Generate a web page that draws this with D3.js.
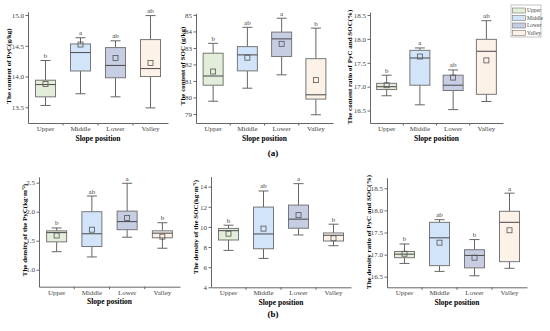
<!DOCTYPE html>
<html>
<head>
<meta charset="utf-8">
<script src="https://cdn.jsdelivr.net/npm/d3@7"></script>
<style>
  body { margin: 0; background: #fff; }
  text { font-family: "Liberation Serif", "Times New Roman", serif; }
</style>
</head>
<body>
<div id="chart"></div>
<script>
// Categories
const slopes = ['Upper', 'Middle', 'Lower', 'Valley'];

// Box stats per slope: [min, q1, median, q3, max, mean]
const pycContent = [[13.53, 13.67, 13.87, 13.94, 14.26, 13.88], [13.72, 14.09, 14.39, 14.53, 14.63, 14.52], [13.67, 13.98, 14.18, 14.47, 14.58, 14.30], [13.49, 14.00, 14.13, 14.60, 14.99, 14.22]];
const socContent = [[79.77, 80.74, 81.30, 82.68, 83.28, 81.57], [80.56, 81.61, 82.58, 83.08, 84.25, 82.41], [81.37, 82.48, 83.55, 83.96, 84.80, 83.25], [78.95, 79.90, 80.16, 82.35, 84.20, 81.05]];
const ratioContent = [[16.81, 16.94, 17.00, 17.07, 17.24, 17.03], [16.62, 17.03, 17.60, 17.76, 17.81, 17.63], [16.52, 16.92, 17.03, 17.24, 17.35, 17.19], [16.69, 16.84, 17.74, 17.99, 18.38, 17.55]];
const pycDensity = [[1.31, 1.48, 1.64, 1.67, 1.72, 1.59], [1.22, 1.40, 1.62, 2.00, 2.27, 1.69], [1.56, 1.69, 1.83, 2.01, 2.49, 1.89], [1.37, 1.55, 1.63, 1.67, 1.81, 1.57]];
const socDensity = [[7.67, 8.70, 9.63, 9.85, 10.17, 9.33], [6.87, 7.83, 9.30, 11.97, 13.57, 9.83], [9.20, 9.87, 10.77, 12.17, 14.30, 11.17], [8.13, 8.60, 9.17, 9.40, 10.27, 8.87]];
const ratioDensity = [[16.80, 16.93, 17.01, 17.07, 17.24, 17.02], [16.62, 16.75, 17.38, 17.73, 17.79, 17.27], [16.52, 16.70, 16.98, 17.11, 17.34, 16.93], [16.69, 16.84, 17.73, 17.98, 18.39, 17.55]];

// Significance letters
const pycContentLetters = ['b', 'a', 'ab', 'ab'];
const socContentLetters = ['b', 'ab', 'a', 'b'];
const ratioContentLetters = ['b', 'a', 'ab', 'ab'];
const pycDensityLetters = ['b', 'ab', 'a', 'b'];
const socDensityLetters = ['b', 'ab', 'a', 'b'];
const ratioDensityLetters = ['b', 'ab', 'b', 'a'];

// Y tick values
const pycContentTicks = [13.5, 14.0, 14.5, 15.0];
const socContentTicks = [79, 80, 81, 82, 83, 84, 85];
const ratioContentTicks = [16.5, 17.0, 17.5, 18.0, 18.5];
const pycDensityTicks = [1.0, 1.5, 2.0, 2.5];
const socDensityTicks = [4, 6, 8, 10, 12, 14];
const ratioDensityTicks = [16.5, 17.0, 17.5, 18.0, 18.5];

const fills = ['#e2eed9', '#d2e4fa', '#c7cde3', '#fdf2e8'];

const width = 550, height = 331;

const svg = d3.select('#chart')
    .append('svg')
    .attr('width', width)
    .attr('height', height);

// Panel layout
const panels = [
    { stats: pycContent, letters: pycContentLetters, ticks: pycContentTicks, fmt: '.1f',
      domain: [13.245, 15.05], y: [123, 11.9], x: [28, 168], title: 'The content of PyC(g/kg)', tx: 9, ty: 66 },
    { stats: socContent, letters: socContentLetters, ticks: socContentTicks, fmt: 'd',
      domain: [78.45, 85.1], y: [123, 13.3], x: [196, 333], title: 'The content of SOC (g/kg)', tx: 183, ty: 66 },
    { stats: ratioContent, letters: ratioContentLetters, ticks: ratioContentTicks, fmt: '.1f',
      domain: [16.24, 18.56], y: [123, 12.1], x: [370, 503], title: 'The content ratio of PyC and SOC(%)', tx: 350, ty: 67 },
    { stats: pycDensity, letters: pycDensityLetters, ticks: pycDensityTicks, fmt: '.1f',
      domain: [0.707, 2.6], y: [286.7, 176.9], x: [39, 180], title: 'The density of the PyC(kg·m⁻²)', tx: 25, ty: 230 },
    { stats: socDensity, letters: socDensityLetters, ticks: socDensityTicks, fmt: 'd',
      domain: [4, 15], y: [287.3, 176.6], x: [211, 351], title: 'The density of the SOC(kg·m⁻²)', tx: 196, ty: 227 },
    { stats: ratioDensity, letters: ratioDensityLetters, ticks: ratioDensityTicks, fmt: '.1f',
      domain: [16.26, 18.74], y: [287.3, 177.7], x: [387, 527], title: 'The density ratio of PyC and SOC(%)', tx: 369, ty: 232 }
];

const axisColor = '#666';
const textColor = '#444';

panels.forEach(p => {
    const x = d3.scaleBand().domain(slopes).range(p.x);
    const y = d3.scaleLinear().domain(p.domain).range(p.y);
    const g = svg.append('g');

    // Y axis
    const yAxis = g.append('g')
        .attr('transform', `translate(${p.x[0]},0)`)
        .call(d3.axisLeft(y).tickValues(p.ticks).tickFormat(d3.format(p.fmt)).tickSize(2.5).tickSizeOuter(0));
    yAxis.select('.domain').attr('stroke', axisColor);
    yAxis.selectAll('.tick line').attr('stroke', axisColor);
    yAxis.selectAll('.tick text')
        .attr('fill', textColor)
        .attr('font-size', 7)
        .attr('font-family', '"Liberation Serif", serif')
        .attr('x', -4);

    // X axis
    const xAxis = g.append('g')
        .attr('transform', `translate(0,${p.y[0]})`)
        .call(d3.axisBottom(x).tickSize(0).tickSizeOuter(0));
    xAxis.select('.domain').attr('stroke', axisColor);
    xAxis.selectAll('.tick text')
        .attr('fill', textColor)
        .attr('font-size', 7)
        .attr('font-family', '"Liberation Serif", serif')
        .attr('dy', '0.71em')
        .attr('y', 3);
    // small ticks between categories
    g.selectAll('.sep')
        .data(slopes.slice(1))
        .enter()
        .append('line')
        .attr('x1', d => x(d))
        .attr('x2', d => x(d))
        .attr('y1', p.y[0])
        .attr('y2', p.y[0] + 2.5)
        .attr('stroke', axisColor);

    // Titles
    g.append('text')
        .attr('transform', `translate(${p.tx},${p.ty}) rotate(-90)`)
        .attr('text-anchor', 'middle')
        .attr('dy', '0.35em')
        .attr('font-size', 7)
        .attr('font-weight', 'bold')
        .text(p.title);
    g.append('text')
        .attr('x', (p.x[0] + p.x[1]) / 2)
        .attr('y', p.y[0] + 17.5)
        .attr('text-anchor', 'middle')
        .attr('font-size', 7.5)
        .attr('font-weight', 'bold')
        .text('Slope position');

    // Boxes
    const bw = 20, cw = 10;
    const boxes = g.selectAll('.box')
        .data(p.stats)
        .enter()
        .append('g');

    boxes.each(function (d, i) {
        const cx = x(slopes[i]) + x.bandwidth() / 2;
        const b = d3.select(this);
        const [mn, q1, md, q3, mx, mean] = d;
        b.append('line').attr('x1', cx).attr('x2', cx).attr('y1', y(mx)).attr('y2', y(q3)).attr('stroke', axisColor);
        b.append('line').attr('x1', cx).attr('x2', cx).attr('y1', y(q1)).attr('y2', y(mn)).attr('stroke', axisColor);
        b.append('line').attr('x1', cx - cw / 2).attr('x2', cx + cw / 2).attr('y1', y(mx)).attr('y2', y(mx)).attr('stroke', axisColor);
        b.append('line').attr('x1', cx - cw / 2).attr('x2', cx + cw / 2).attr('y1', y(mn)).attr('y2', y(mn)).attr('stroke', axisColor);
        b.append('rect')
            .attr('x', cx - bw / 2)
            .attr('y', y(q3))
            .attr('width', bw)
            .attr('height', y(q1) - y(q3))
            .attr('fill', fills[i])
            .attr('stroke', '#777')
            .attr('stroke-width', 1);
        b.append('line').attr('x1', cx - bw / 2).attr('x2', cx + bw / 2).attr('y1', y(md)).attr('y2', y(md))
            .attr('stroke', '#555').attr('stroke-width', 1.1);
        b.append('rect')
            .attr('x', cx - 2.5)
            .attr('y', y(mean) - 2.5)
            .attr('width', 5)
            .attr('height', 5)
            .attr('fill', 'none')
            .attr('stroke', '#555')
            .attr('stroke-width', 0.8);
        b.append('text')
            .attr('x', cx)
            .attr('y', y(mx) - 2.5)
            .attr('text-anchor', 'middle')
            .attr('font-size', 7)
            .attr('fill', textColor)
            .text(p.letters[i]);
    });
});

// Panel labels
svg.append('text').attr('x', 273).attr('y', 155.5).attr('text-anchor', 'middle')
    .attr('font-size', 9).attr('font-weight', 'bold').text('(a)');
svg.append('text').attr('x', 273).attr('y', 316.5).attr('text-anchor', 'middle')
    .attr('font-size', 9).attr('font-weight', 'bold').text('(b)');

// Legend
const legend = svg.append('g').attr('transform', 'translate(511,5)');
legend.append('rect')
    .attr('width', 30).attr('height', 32)
    .attr('fill', '#fff').attr('stroke', '#999').attr('stroke-width', 0.6);
slopes.forEach((s, i) => {
    legend.append('rect')
        .attr('x', 1.5).attr('y', 3 + i * 7.5)
        .attr('width', 13).attr('height', 5)
        .attr('fill', fills[i]).attr('stroke', '#777').attr('stroke-width', 0.6);
    legend.append('text')
        .attr('x', 16).attr('y', 5.5 + i * 7.5)
        .attr('dy', '0.35em')
        .attr('font-size', 5.5)
        .attr('fill', textColor)
        .text(s);
});
</script>
</body>
</html>
